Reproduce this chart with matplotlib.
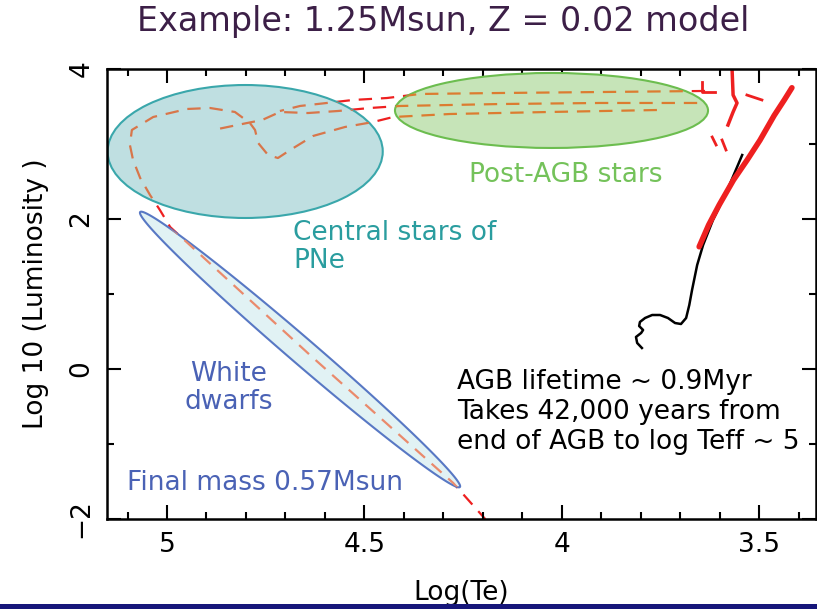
import numpy as np
import matplotlib
matplotlib.use("Agg")
import matplotlib.pyplot as plt
from matplotlib.patches import Ellipse, Polygon, Rectangle
from matplotlib.ticker import MultipleLocator

plt.rcParams['font.family'] = ['DejaVu Sans']

# pre-AGB (main sequence / RGB start), log Te vs log L
rgb_te = [3.797, 3.809, 3.812, 3.799, 3.794, 3.804, 3.802, 3.789, 3.771,
          3.751, 3.731, 3.713, 3.698, 3.685, 3.677, 3.670, 3.657, 3.642,
          3.617, 3.586, 3.543]
rgb_l = [0.28, 0.347, 0.427, 0.48, 0.52, 0.573, 0.627, 0.68, 0.72,
         0.72, 0.68, 0.613, 0.60, 0.68, 0.853, 1.053, 1.387, 1.653,
         1.987, 2.32, 2.853]

# giant branch + AGB
agb_te = [3.652, 3.628, 3.601, 3.565, 3.530, 3.498, 3.462, 3.436, 3.417]
agb_l = [1.63, 1.92, 2.19, 2.52, 2.79, 3.05, 3.38, 3.59, 3.75]

# thermal pulse bits near the AGB tip
pulse_te = [3.569, 3.566, 3.556, 3.566, 3.579]
pulse_l = [4.05, 3.653, 3.547, 3.427, 3.253]
flash_segs = [
    ([3.644, 3.644, 3.611], [3.827, 3.693, 3.693]),
    ([3.531, 3.493], [3.653, 3.587]),
    ([3.619, 3.609], [3.093, 2.987]),
    ([3.594, 3.584], [3.053, 2.92]),
]

# post-AGB tracks
track_a_te = [3.637, 3.903, 4.156, 4.359, 4.443, 4.529, 4.595, 4.663, 4.714]
track_a_l = [3.707, 3.693, 3.68, 3.667, 3.613, 3.587, 3.547, 3.507, 3.44]
track_b_te = [3.657, 3.903, 4.156, 4.41, 4.486, 4.567, 4.643, 4.714, 4.759,
              4.797, 4.871]
track_b_l = [3.547, 3.547, 3.533, 3.507, 3.48, 3.44, 3.413, 3.427, 3.32,
             3.28, 3.2]
# final track down to the white dwarf cooling sequence
track_c_te = [3.759, 4.03, 4.283, 4.427, 4.478, 4.549, 4.63, 4.688, 4.719,
              4.744, 4.769, 4.777, 4.79, 4.828, 4.891, 4.949, 5.035, 5.089,
              5.094, 5.086, 5.068, 5.043, 5.018, 4.992, 4.638, 4.275, 4.194]
track_c_l = [3.453, 3.427, 3.4, 3.36, 3.293, 3.227, 3.107, 2.92, 2.813,
             2.853, 3.013, 3.187, 3.28, 3.427, 3.48, 3.467, 3.36, 3.187,
             2.987, 2.787, 2.547, 2.32, 2.12, 1.893, 0.187, -1.52, -2.0]
tracks = [(track_a_te, track_a_l), (track_b_te, track_b_l),
          (track_c_te, track_c_l)]

# regions
pne_center, pne_size = (4.802, 2.90), (0.697, 1.773)
pagb_center, pagb_size = (4.026, 3.447), (0.793, 1.0)
wd_ends = [(5.068, 2.093), (4.258, -1.573)]

red = '#ee2020'
dash = (0, (6, 4))

fig = plt.figure(figsize=(8.17, 6.09), dpi=100)
ax = fig.add_axes([107/817, 1 - 519/609, (816 - 107)/817, (519 - 69)/609])
ax.set_xlim(5.152, 3.356)
ax.set_ylim(-2, 4)

for te, l in tracks:
    ax.plot(te, l, color=red, lw=1.6, linestyle=dash, zorder=1)

ax.plot(rgb_te, rgb_l, color='black', lw=1.8, zorder=1)
ax.plot(agb_te, agb_l, color=red, lw=4, solid_capstyle='round', zorder=1.2)
ax.plot(pulse_te, pulse_l, color=red, lw=2.5, zorder=1.2)
for te, l in flash_segs:
    ax.plot(te, l, color=red, lw=2, zorder=1.2)

# shaded regions, tracks seen through them in a softer orange
pne = Ellipse(pne_center, pne_size[0], pne_size[1], facecolor='#bfdfe1',
              edgecolor='#3aa7ab', lw=1.5, zorder=2)
pagb = Ellipse(pagb_center, pagb_size[0], pagb_size[1], facecolor='#c6e4b8',
               edgecolor='#6cbd4f', lw=1.5, zorder=2)

# thin tilted ellipse along the cooling track (built in pixel space)
p1, p2 = ax.transData.transform(wd_ends)
c = (p1 + p2) / 2
u = (p2 - p1) / 2
v = np.array([-u[1], u[0]]) / np.hypot(*u) * 13
t = np.linspace(0, 2 * np.pi, 200)
pts = c + np.outer(np.cos(t), u) + np.outer(np.sin(t), v)
pts = ax.transData.inverted().transform(pts)
wd = Polygon(pts, closed=True, facecolor='#e1f2f4', edgecolor='#5878c4',
             lw=1.5, zorder=2)

for patch, inner in [(pne, '#d8764a'), (pagb, '#dc7c30'), (wd, '#ea8a6c')]:
    ax.add_patch(patch)
    for te, l in tracks:
        ln, = ax.plot(te, l, color=inner, lw=1.6, linestyle=dash, zorder=2.5)
        ln.set_clip_path(patch)

fs = 19
ax.text(4.681, 1.627, 'Central stars of\nPNe', color='#2a9d9f', fontsize=fs,
        ha='left', va='center', linespacing=1.1, zorder=3)
ax.text(3.989, 2.587, 'Post-AGB stars', color='#74c25a', fontsize=fs,
        ha='center', va='center', zorder=3)
ax.text(4.843, -0.253, 'White\ndwarfs', color='#4a62b5', fontsize=fs,
        ha='center', va='center', linespacing=1.1, zorder=3)
ax.text(5.101, -1.52, 'Final mass 0.57Msun', color='#4a62b5', fontsize=fs,
        ha='left', va='center', zorder=3)
ax.text(4.265, -0.573,
        'AGB lifetime ~ 0.9Myr\nTakes 42,000 years from\nend of AGB to log Teff ~ 5',
        color='black', fontsize=fs, ha='left', va='center', zorder=3)

ax.xaxis.set_major_locator(MultipleLocator(0.5))
ax.xaxis.set_minor_locator(MultipleLocator(0.1))
ax.yaxis.set_major_locator(MultipleLocator(2))
ax.yaxis.set_minor_locator(MultipleLocator(1))
ax.set_xticks([5, 4.5, 4, 3.5])
ax.set_xticklabels(['5', '4.5', '4', '3.5'])
ax.tick_params(which='both', direction='in', top=True, right=True,
               labelsize=fs, width=1.5, pad=9)
ax.tick_params(which='major', length=10)
ax.tick_params(which='minor', length=5)
for lab in ax.get_yticklabels():
    lab.set_rotation(90)
    lab.set_va('center')
for s in ax.spines.values():
    s.set_linewidth(1.8)

ax.set_xlabel('Log(Te)', fontsize=fs, labelpad=16)
ax.set_ylabel('Log 10 (Luminosity )', fontsize=fs, labelpad=14)

fig.text(443/817, 1 - 22/609, 'Example: 1.25Msun, Z = 0.02 model',
         color='#3c1f47', fontsize=24, ha='center', va='center')

fig.patches.append(Rectangle((0, 0), 1, 5.5/609, transform=fig.transFigure,
                             facecolor='#16167a', edgecolor='none', zorder=10))

fig.savefig('out.png', dpi=100)
